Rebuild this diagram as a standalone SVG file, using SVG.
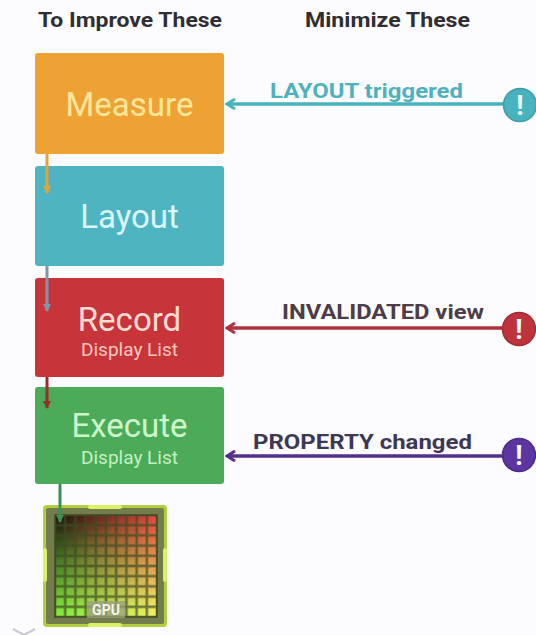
<svg xmlns="http://www.w3.org/2000/svg" width="536" height="635" viewBox="0 0 536 635">
  <style>
    .hdr { font-family: Roboto, "Liberation Sans", sans-serif; font-weight: 700; font-size: 20.5px; fill: #2f2f33; }
    .box { rx: 3px; }
    .lbl { font-family: Roboto, "Liberation Sans", sans-serif; font-size: 33px; text-anchor: middle; }
    .sub { font-family: Roboto, "Liberation Sans", sans-serif; font-size: 19px; text-anchor: middle; }
    .cause { font-family: Roboto, "Liberation Sans", sans-serif; font-weight: 700; font-size: 21px; }
    .bang { font-family: Roboto, "Liberation Sans", sans-serif; font-weight: 700; font-size: 27px; text-anchor: middle; fill: #f4fbfc; }
    .trig { fill: none; stroke-width: 3.5; }
    .flow { fill: none; stroke-width: 3; }
  </style>
  <defs>
    <marker id="ah-teal" viewBox="0 0 12 12" refX="10" refY="6" markerWidth="12" markerHeight="12" markerUnits="userSpaceOnUse" orient="auto">
      <path d="M2,1 L10,6 L2,11" fill="none" stroke="#48b3bf" stroke-width="3"/>
    </marker>
    <marker id="ah-red" viewBox="0 0 12 12" refX="10" refY="6" markerWidth="12" markerHeight="12" markerUnits="userSpaceOnUse" orient="auto">
      <path d="M2,1 L10,6 L2,11" fill="none" stroke="#b2313c" stroke-width="3"/>
    </marker>
    <marker id="ah-purple" viewBox="0 0 12 12" refX="10" refY="6" markerWidth="12" markerHeight="12" markerUnits="userSpaceOnUse" orient="auto">
      <path d="M2,1 L10,6 L2,11" fill="none" stroke="#55308e" stroke-width="3"/>
    </marker>
    <marker id="tip-orange" viewBox="0 0 8 8" refX="7" refY="4" markerWidth="8" markerHeight="8" markerUnits="userSpaceOnUse" orient="auto">
      <path d="M0,0 L8,4 L0,8 Z" fill="#e3a33a"/>
    </marker>
    <marker id="tip-slate" viewBox="0 0 8 8" refX="7" refY="4" markerWidth="8" markerHeight="8" markerUnits="userSpaceOnUse" orient="auto">
      <path d="M0,0 L8,4 L0,8 Z" fill="#7d94ab"/>
    </marker>
    <marker id="tip-maroon" viewBox="0 0 8 8" refX="7" refY="4" markerWidth="8" markerHeight="8" markerUnits="userSpaceOnUse" orient="auto">
      <path d="M0,0 L8,4 L0,8 Z" fill="#9a2d2c"/>
    </marker>
    <marker id="tip-green" viewBox="0 0 8 8" refX="7" refY="4" markerWidth="8" markerHeight="8" markerUnits="userSpaceOnUse" orient="auto">
      <path d="M0,0 L8,4 L0,8 Z" fill="#3f8f55"/>
    </marker>
    <!-- GPU die colouring: dark→green vertically, blended with dark→red horizontally -->
    <linearGradient id="die-v" x1="0" y1="0" x2="0" y2="1">
      <stop offset="0" stop-color="#140e08"/>
      <stop offset="0.45" stop-color="#3f7a22"/>
      <stop offset="1" stop-color="#84f23c"/>
    </linearGradient>
    <linearGradient id="die-h" x1="0" y1="0" x2="1" y2="0">
      <stop offset="0" stop-color="#000000"/>
      <stop offset="1" stop-color="#e43a34"/>
    </linearGradient>
    <pattern id="cells" x="55" y="515" width="10.2" height="10.2" patternUnits="userSpaceOnUse">
      <rect x="0" y="0" width="10.2" height="10.2" fill="none" stroke="#3f4a22" stroke-opacity="0.7" stroke-width="2.6"/>
    </pattern>
  </defs>

  <rect width="536" height="635" fill="#fcfbfd"/>

  <!-- column headings -->
  <text class="hdr" x="38" y="27" textLength="184" lengthAdjust="spacingAndGlyphs">To Improve These</text>
  <text class="hdr" x="305" y="27" textLength="165" lengthAdjust="spacingAndGlyphs">Minimize These</text>

  <!-- pipeline stages -->
  <g id="measure">
    <rect class="box" x="35" y="53" width="189" height="101" fill="#eea233"/>
    <text class="lbl" x="129.5" y="116" fill="#fde79c">Measure</text>
  </g>
  <g id="layout">
    <rect class="box" x="35" y="166" width="189" height="100" fill="#4fb4c2"/>
    <text class="lbl" x="129.5" y="228" fill="#d9f7fa">Layout</text>
  </g>
  <g id="record">
    <rect class="box" x="35" y="278" width="189" height="99" fill="#c7343a"/>
    <text class="lbl" x="129.5" y="331" fill="#ffdcd4">Record</text>
    <text class="sub" x="129.5" y="356" fill="#ffc9c0">Display List</text>
  </g>
  <g id="execute">
    <rect class="box" x="35" y="387" width="189" height="97" fill="#4bab58"/>
    <text class="lbl" x="129.5" y="437" fill="#cdf6cc">Execute</text>
    <text class="sub" x="129.5" y="464" fill="#c4f1c3">Display List</text>
  </g>

  <!-- GPU chip -->
  <g id="gpu">
    <rect x="43" y="505" width="124" height="122" rx="4" fill="#b0cf3e"/>
    <rect x="46" y="508" width="118" height="116" rx="2" fill="#737c4c"/>
    <rect x="88" y="505" width="34" height="4" rx="2" fill="#dcf266"/>
    <rect x="88" y="623" width="34" height="4" rx="2" fill="#dcf266"/>
    <rect x="43" y="548" width="4" height="34" rx="2" fill="#dcf266"/>
    <rect x="163" y="548" width="4" height="34" rx="2" fill="#dcf266"/>
    <g style="isolation:isolate">
      <rect x="55" y="515" width="102" height="102" fill="url(#die-v)"/>
      <rect x="55" y="515" width="102" height="102" fill="url(#die-h)" style="mix-blend-mode:screen"/>
    </g>
    <rect x="55" y="515" width="102" height="102" fill="url(#cells)"/>
    <rect x="55" y="515" width="102" height="102" fill="none" stroke="#3f4a22" stroke-width="1.5"/>
    <rect x="87" y="601" width="38" height="17" fill="#9aa07a" opacity="0.8"/>
    <text x="106" y="615" text-anchor="middle" font-family="Roboto, 'Liberation Sans', sans-serif" font-weight="700" font-size="14" fill="#f2f4ee">GPU</text>
  </g>

  <!-- triggers -->
  <g id="trigger-layout">
    <circle cx="520" cy="105" r="16.5" fill="#48b3bf" stroke="#3c9ea9" stroke-width="1.5"/>
    <text class="bang" x="520" y="115">!</text>
    <text class="cause" x="270" y="98" fill="#4db2be" textLength="193" lengthAdjust="spacingAndGlyphs">LAYOUT triggered</text>
  </g>
  <g id="trigger-invalidate">
    <circle cx="519" cy="329" r="16.5" fill="#bf333d" stroke="#a42b34" stroke-width="1.5"/>
    <text class="bang" x="519" y="339" fill="#ffe3e3">!</text>
    <text class="cause" x="282" y="319" fill="#4e3c46" textLength="202" lengthAdjust="spacingAndGlyphs">INVALIDATED view</text>
  </g>
  <g id="trigger-property">
    <circle cx="519" cy="455" r="16.5" fill="#5c35a0" stroke="#4b2a88" stroke-width="1.5"/>
    <text class="bang" x="519" y="465" fill="#efe8fb">!</text>
    <text class="cause" x="253" y="449" fill="#3d3854" textLength="219" lengthAdjust="spacingAndGlyphs">PROPERTY changed</text>
  </g>

  <!-- connectors -->
  <g id="connectors">
    <path class="flow" d="M47,154 V193" stroke="#e3a33a" marker-end="url(#tip-orange)"/>
    <path class="flow" d="M47,266 V311" stroke="#7d94ab" marker-end="url(#tip-slate)"/>
    <path class="flow" d="M47,377 V408" stroke="#9a2d2c" marker-end="url(#tip-maroon)"/>
    <path class="flow" d="M60,484 V522" stroke="#3f8f55" marker-end="url(#tip-green)"/>
    <path class="trig" d="M503,104 H227" stroke="#48b3bf" marker-end="url(#ah-teal)"/>
    <path class="trig" d="M502,328 H227" stroke="#b2313c" marker-end="url(#ah-red)"/>
    <path class="trig" d="M502,456 H227" stroke="#55308e" marker-end="url(#ah-purple)"/>
  </g>

  <path d="M13,629 L24,635 L35,629" fill="none" stroke="#c9c9d2" stroke-width="2"/>
</svg>
